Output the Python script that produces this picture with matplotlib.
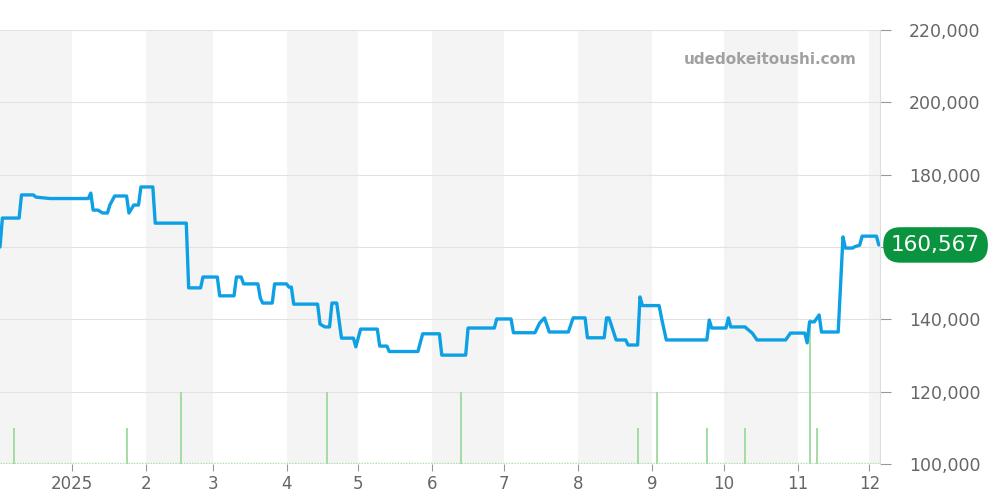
import numpy as np
import pandas as pd
import matplotlib
matplotlib.use("Agg")
import matplotlib.pyplot as plt

# price series (step-like daily data, breakpoints)
price_dates = ["2024-12-02", "2024-12-03", "2024-12-10", "2024-12-11", "2024-12-16", "2024-12-17",
               "2024-12-23", "2025-01-08", "2025-01-09", "2025-01-10", "2025-01-12", "2025-01-14",
               "2025-01-16", "2025-01-17", "2025-01-19", "2025-01-24", "2025-01-25", "2025-01-27",
               "2025-01-29", "2025-01-30", "2025-02-04", "2025-02-05", "2025-02-18", "2025-02-19",
               "2025-02-24", "2025-02-25", "2025-03-03", "2025-03-04", "2025-03-10", "2025-03-11",
               "2025-03-13", "2025-03-14", "2025-03-20", "2025-03-21", "2025-03-22", "2025-03-26",
               "2025-03-27", "2025-04-01", "2025-04-02", "2025-04-03", "2025-04-04", "2025-04-14",
               "2025-04-15", "2025-04-17", "2025-04-19", "2025-04-20", "2025-04-22", "2025-04-24",
               "2025-04-29", "2025-04-30", "2025-05-02", "2025-05-09", "2025-05-10", "2025-05-13",
               "2025-05-14", "2025-05-26", "2025-05-28", "2025-06-04", "2025-06-05", "2025-06-15",
               "2025-06-16", "2025-06-27", "2025-06-28", "2025-07-04", "2025-07-05", "2025-07-14",
               "2025-07-16", "2025-07-18", "2025-07-20", "2025-07-28", "2025-07-30", "2025-08-04",
               "2025-08-05", "2025-08-12", "2025-08-13", "2025-08-14", "2025-08-17", "2025-08-21",
               "2025-08-22", "2025-08-26", "2025-08-27", "2025-08-28", "2025-09-04", "2025-09-05",
               "2025-09-07", "2025-09-24", "2025-09-25", "2025-09-26", "2025-10-02", "2025-10-03",
               "2025-10-04", "2025-10-10", "2025-10-11", "2025-10-13", "2025-10-15", "2025-10-27",
               "2025-10-29", "2025-11-04", "2025-11-05", "2025-11-06", "2025-11-08", "2025-11-10",
               "2025-11-11", "2025-11-18", "2025-11-20", "2025-11-21", "2025-11-24", "2025-11-25",
               "2025-11-27", "2025-11-28", "2025-12-04", "2025-12-05"]
price_values = [160000, 168000, 168000, 174400, 174400, 173800,
                173400, 173400, 174900, 170200, 170200, 169400,
                169400, 171600, 174100, 174100, 169400, 171600,
                171600, 176600, 176600, 166600, 166600, 148700,
                148700, 151700, 151700, 146500, 146500, 151700,
                151700, 149800, 149800, 145900, 144500, 144500,
                149800, 149800, 148900, 148900, 144200, 144200,
                138700, 137900, 137900, 144500, 144500, 134800,
                134800, 132400, 137300, 137300, 132600, 132600,
                131100, 131100, 136000, 136000, 130100, 130100,
                137600, 137600, 140100, 140100, 136300, 136300,
                139000, 140400, 136500, 136500, 140400, 140400,
                134900, 134900, 140400, 140400, 134300, 134300,
                132900, 132900, 146200, 143800, 143800, 140400,
                134300, 134300, 139800, 137600, 137600, 140400,
                137900, 137900, 137300, 136200, 134300, 134300,
                136200, 136200, 133500, 139300, 139300, 141200,
                136500, 136500, 162800, 159700, 159700, 160100,
                160500, 163000, 163000, 160567]

# trade counts (green bars), 1 trade = 10,000 on the price scale
vol_dates = ["2024-12-08", "2025-01-24", "2025-02-16", "2025-04-18", "2025-06-13", "2025-08-26",
             "2025-09-03", "2025-09-24", "2025-10-10", "2025-11-06", "2025-11-09"]
vol_counts = [1, 1, 2, 2, 2, 1, 2, 1, 1, 4, 1]

yticks = [100000, 120000, 140000, 160000, 180000, 200000, 220000]
last_price = price_values[-1]

pd_dates = pd.to_datetime(price_dates)
vd = pd.to_datetime(vol_dates)
base = 100000

fig = plt.figure(figsize=(10, 5), dpi=100)
ax = fig.add_axes([0.0, 0.072, 0.88, 0.868])

x0 = pd.Timestamp("2024-12-02")
x1 = pd.Timestamp("2025-12-05 12:00")

# alternating month bands
months = pd.date_range("2024-12-01", "2026-01-01", freq="MS")
for i in range(len(months) - 1):
    if i % 2 == 0:
        ax.axvspan(months[i], months[i + 1], color="#f4f4f4", zorder=0, lw=0)

for yv in yticks:
    ax.axhline(yv, color="#e2e2e2", lw=0.8, zorder=1)

ax.axhline(base + 150, color="#b0dfb0", lw=1, ls=(0, (1, 1)), zorder=2)
ax.vlines(vd, base, base + np.array(vol_counts) * 10000, color="#9dda9d", lw=1.3, zorder=2)

ax.plot(pd_dates, price_values, color="#0ea0e4", lw=2.4, zorder=3,
        solid_joinstyle="round", solid_capstyle="round")

ax.set_xlim(x0, x1)
ax.set_ylim(100000, 220000)

ax.yaxis.tick_right()
ax.set_yticks(yticks)
ax.set_yticklabels(["" if v == 160000 else f"{v:,}" for v in yticks])
ax.tick_params(axis="y", colors="#999999", labelcolor="#666666", labelsize=12.5,
               length=8, pad=13)

ticks = pd.date_range("2025-01-01", "2025-12-01", freq="MS")
ax.set_xticks(ticks)
ax.set_xticklabels(["2025"] + [str(m) for m in range(2, 13)])
ax.tick_params(axis="x", colors="#999999", labelcolor="#666666", labelsize=12, length=5, pad=3)

for s in ["left", "top", "bottom"]:
    ax.spines[s].set_visible(False)
ax.spines["right"].set_color("#dddddd")

ax.text(0.974, 0.95, "udedokeitoushi.com", transform=ax.transAxes, ha="right", va="top",
        fontsize=11, fontweight="bold", color="#a0a0a0")

ax.annotate(f"{last_price:,}", xy=(1.0, last_price), xycoords=("axes fraction", "data"),
            xytext=(40, 0), textcoords="offset points", ha="center", va="center",
            fontsize=15.5, color="white",
            bbox=dict(boxstyle="round,pad=0.36,rounding_size=0.8", fc="#0a9440", ec="none"))

fig.savefig("out.png", dpi=100)
